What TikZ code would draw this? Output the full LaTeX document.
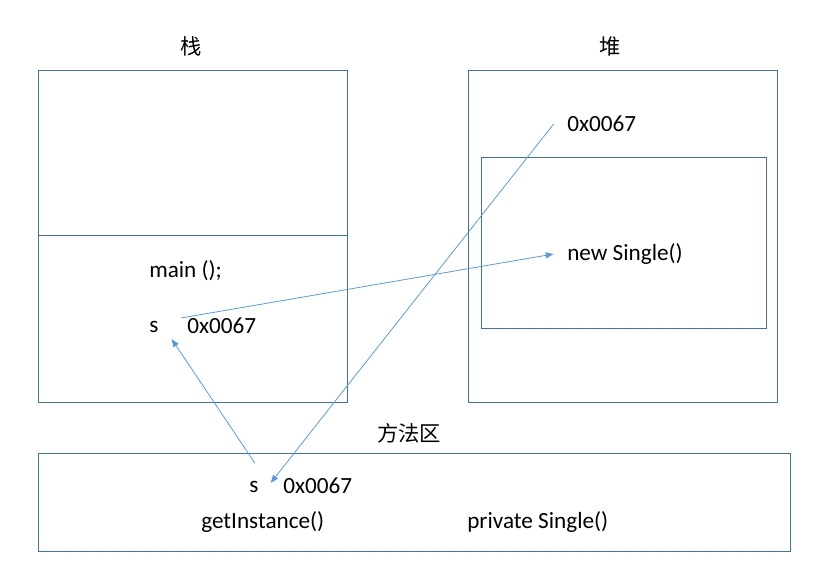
\documentclass[tikz,border=0pt]{standalone}
\usepackage{fontspec}
\setmainfont{Carlito}
\newfontfamily\cjk{Noto Sans CJK SC}
\usetikzlibrary{arrows.meta}
\definecolor{boxblue}{HTML}{41719C}
\definecolor{linkblue}{HTML}{5B9BD5}

\begin{document}
\begin{tikzpicture}[
  x=0.75pt, y=-0.75pt,
  area/.style={draw=boxblue, line width=0.7pt},
  txt/.style={font=\fontsize{17.4}{20}\selectfont, inner sep=0pt, anchor=west},
  title/.style={font=\cjk\fontsize{16}{19}\selectfont, inner sep=0pt},
  link/.style={draw=linkblue, line width=0.6pt, -{Triangle[length=6pt, width=4.5pt]}}
]
\useasboundingbox (0,0) rectangle (825,585);

% areas
\draw[area] (38,70) rectangle (347,402);
\draw[area] (38,235) -- (347,235);
\draw[area] (468,70) rectangle (777,402);
\draw[area] (481,157) rectangle (766,328);
\draw[area] (38,453) rectangle (790,551);

% titles
\node[title] (stacktitle) at (191,46) {栈};
\node[title] (heaptitle) at (610,46) {堆};
\node[title] (methodtitle) at (409,433) {方法区};

% stack
\node[txt] (mainf) at (149,271) {main ();};
\node[txt] (svar) at (149,327) {s};
\node[txt] (sval) at (187,326) {0x0067};

% heap
\node[txt] (hval) at (567,124) {0x0067};
\node[txt] (newobj) at (567,254) {new Single()};

% method area
\node[txt] (mvar) at (249,487) {s};
\node[txt] (mval) at (283,486) {0x0067};
\node[txt] (getinst) at (201,522) {getInstance()};
\node[txt] (ctor) at (467,522) {private Single()};

% links
\draw[link] ([shift={(-6,-8)}]sval.west) -- ([xshift=-10]newobj.west);
\draw[link] ([xshift=-10]hval.west) -- ([shift={(12,-4)}]mvar.east);
\draw[link] ([shift={(1,-18)}]mvar.north) -- ([shift={(13,6)}]svar.south east);
\end{tikzpicture}
\end{document}
